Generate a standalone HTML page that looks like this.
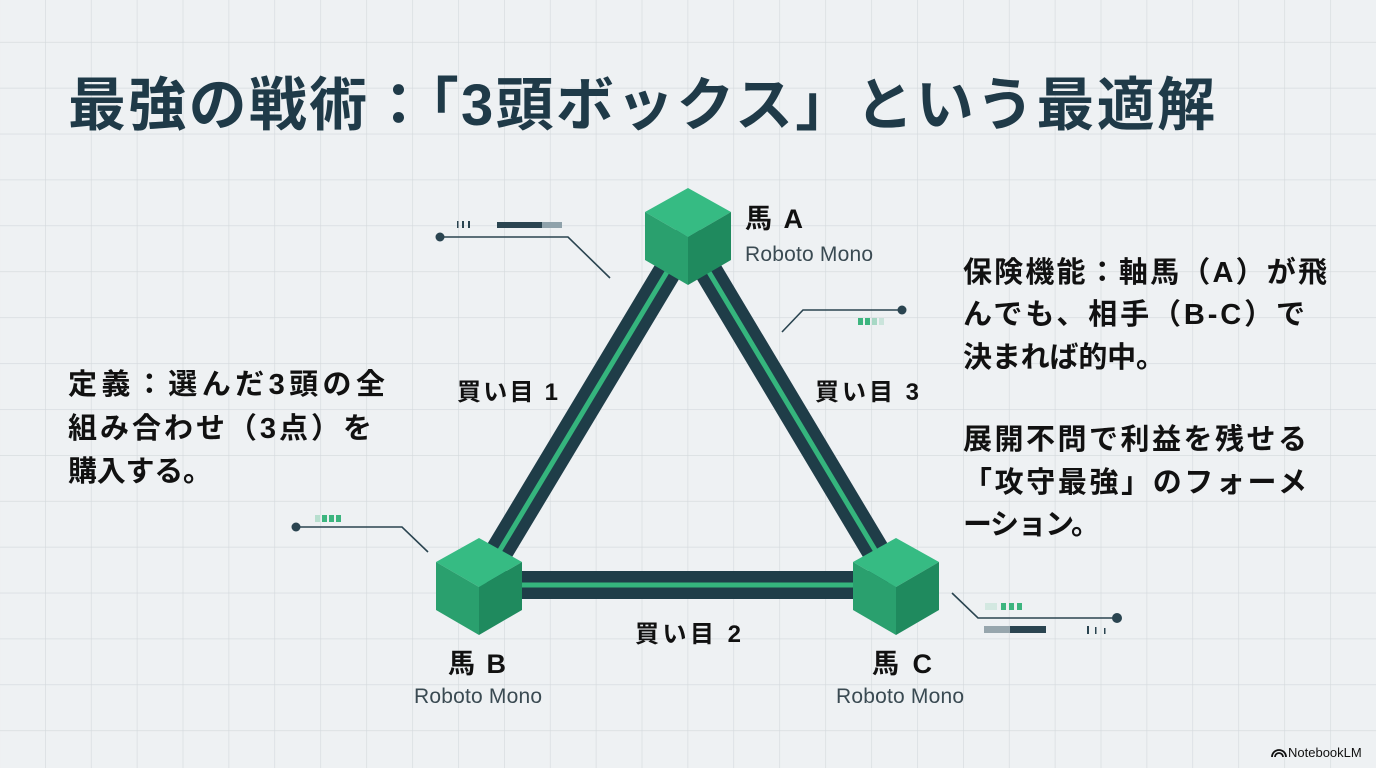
<!DOCTYPE html>
<html><head><meta charset="utf-8"><style>
html,body{margin:0;padding:0}
body{width:1376px;height:768px;overflow:hidden;background:#eef1f3;font-family:"Liberation Sans","Noto Sans CJK JP",sans-serif;}
svg{position:absolute;left:0;top:0}
</style></head><body>
<svg width="1376" height="768" xmlns="http://www.w3.org/2000/svg">
<defs>
<pattern id="g" x="45" y="-4" width="45.9" height="45.9" patternUnits="userSpaceOnUse">
<path d="M0 0V45.9M0 0H45.9" stroke="#d3d8dc" stroke-width="1.2" fill="none"/>
</pattern>
</defs>
<rect width="1376" height="768" fill="url(#g)"/>
<text x="68" y="125" font-size="58" font-weight="bold" fill="#1f3a48" textLength="1147" lengthAdjust="spacing" font-family="Liberation Sans,Noto Sans CJK JP,sans-serif">最強の戦術：「3頭ボックス」という最適解</text>

<g stroke-linecap="butt">
<line x1="688" y1="237" x2="479" y2="585" stroke="#1f3d48" stroke-width="28"/>
<line x1="688" y1="237" x2="479" y2="585" stroke="#35b57d" stroke-width="5"/>
<line x1="688" y1="237" x2="896" y2="585" stroke="#1f3d48" stroke-width="28"/>
<line x1="688" y1="237" x2="896" y2="585" stroke="#35b57d" stroke-width="5"/>
<line x1="479" y1="585" x2="896" y2="585" stroke="#1f3d48" stroke-width="28"/>
<line x1="479" y1="585" x2="896" y2="585" stroke="#35b57d" stroke-width="5"/>
</g>

<g>
<polygon points="688,188 731,212 688,237 645,212" fill="#36bb83"/>
<polygon points="645,212 688,237 688,285 645,260" fill="#2aa06e"/>
<polygon points="731,212 688,237 688,285 731,260" fill="#1f8a5e"/>
</g>
<g transform="translate(-209,350)">
<polygon points="688,188 731,212 688,237 645,212" fill="#36bb83"/>
<polygon points="645,212 688,237 688,285 645,260" fill="#2aa06e"/>
<polygon points="731,212 688,237 688,285 731,260" fill="#1f8a5e"/>
</g>
<g transform="translate(208,350)">
<polygon points="688,188 731,212 688,237 645,212" fill="#36bb83"/>
<polygon points="645,212 688,237 688,285 645,260" fill="#2aa06e"/>
<polygon points="731,212 688,237 688,285 731,260" fill="#1f8a5e"/>
</g>

<g stroke="#2a4450" stroke-width="1.6" fill="none">
<polyline points="440,237 568,237 610,278"/>
<polyline points="782,332 803,310 902,310"/>
<polyline points="296,527 402,527 428,552"/>
<polyline points="952,593 978,618 1117,618"/>
</g>
<g fill="#2a4450">
<circle cx="440" cy="237" r="4.5"/>
<circle cx="902" cy="310" r="4.5"/>
<circle cx="296" cy="527" r="4.5"/>
<circle cx="1117" cy="618" r="5"/>
<rect x="497" y="222" width="45" height="6"/>
<rect x="542" y="222" width="20" height="6" fill="#8fa2ab"/>
<rect x="457" y="221" width="1.5" height="7"/><rect x="462" y="221" width="2" height="7"/><rect x="468" y="221" width="2" height="7"/>
<rect x="1010" y="626" width="36" height="7"/>
<rect x="984" y="626" width="26" height="7" fill="#97a6ad"/>
<rect x="1087" y="626" width="2" height="8"/><rect x="1095" y="627" width="1.5" height="7"/><rect x="1104" y="628" width="1.5" height="6"/>
</g>
<g fill="#3db57f">
<rect x="858" y="318" width="5" height="7"/><rect x="865" y="318" width="5" height="7"/><rect x="872" y="318" width="5" height="7" opacity=".4"/><rect x="879" y="318" width="5" height="7" opacity=".2"/>
<rect x="322" y="515" width="5" height="7"/><rect x="329" y="515" width="5" height="7"/><rect x="336" y="515" width="5" height="7"/><rect x="315" y="515" width="5" height="7" opacity=".3"/>
<rect x="1001" y="603" width="5" height="7"/><rect x="1009" y="603" width="5" height="7"/><rect x="1017" y="603" width="5" height="7"/><rect x="985" y="603" width="12" height="7" opacity=".15"/>
</g>

<g font-family="Liberation Sans,Noto Sans CJK JP,sans-serif" fill="#111">
<text x="745" y="228" font-size="27" font-weight="bold" textLength="58" lengthAdjust="spacing">馬 A</text>
<text x="745" y="261" font-size="21" fill="#3a4a52" textLength="128" lengthAdjust="spacing">Roboto Mono</text>
<text x="448" y="673" font-size="27" font-weight="bold" textLength="58" lengthAdjust="spacing">馬 B</text>
<text x="414" y="703" font-size="21" fill="#3a4a52" textLength="128" lengthAdjust="spacing">Roboto Mono</text>
<text x="872" y="673" font-size="27" font-weight="bold" textLength="60" lengthAdjust="spacing">馬 C</text>
<text x="836" y="703" font-size="21" fill="#3a4a52" textLength="128" lengthAdjust="spacing">Roboto Mono</text>
<text x="457" y="400" font-size="24" font-weight="bold" textLength="101" lengthAdjust="spacing">買い目 1</text>
<text x="815" y="400" font-size="24" font-weight="bold" textLength="104" lengthAdjust="spacing">買い目 3</text>
<text x="635" y="642" font-size="24" font-weight="bold" textLength="106" lengthAdjust="spacing">買い目 2</text>
<g font-size="29" font-weight="bold" lengthAdjust="spacing">
<text x="68" y="394" textLength="317">定義：選んだ3頭の全</text>
<text x="68" y="438" textLength="304">組み合わせ（3点）を</text>
<text x="68" y="481" textLength="144">購入する。</text>
<text x="963" y="282" textLength="364">保険機能：軸馬（A）が飛</text>
<text x="963" y="324" textLength="342">んでも、相手（B-C）で</text>
<text x="963" y="367" textLength="202">決まれば的中。</text>
<text x="963" y="449" textLength="344">展開不問で利益を残せる</text>
<text x="963" y="492" textLength="344">「攻守最強」のフォーメ</text>
<text x="963" y="534" textLength="137">ーション。</text>
</g>
<text x="1288" y="757" font-size="13" fill="#111">NotebookLM</text>
<path d="M1272 757 a7 7 0 0 1 14 0 M1275 757 a4 4 0 0 1 8 0" stroke="#111" stroke-width="1.8" fill="none"/>
</g>
</svg>
</body></html>
